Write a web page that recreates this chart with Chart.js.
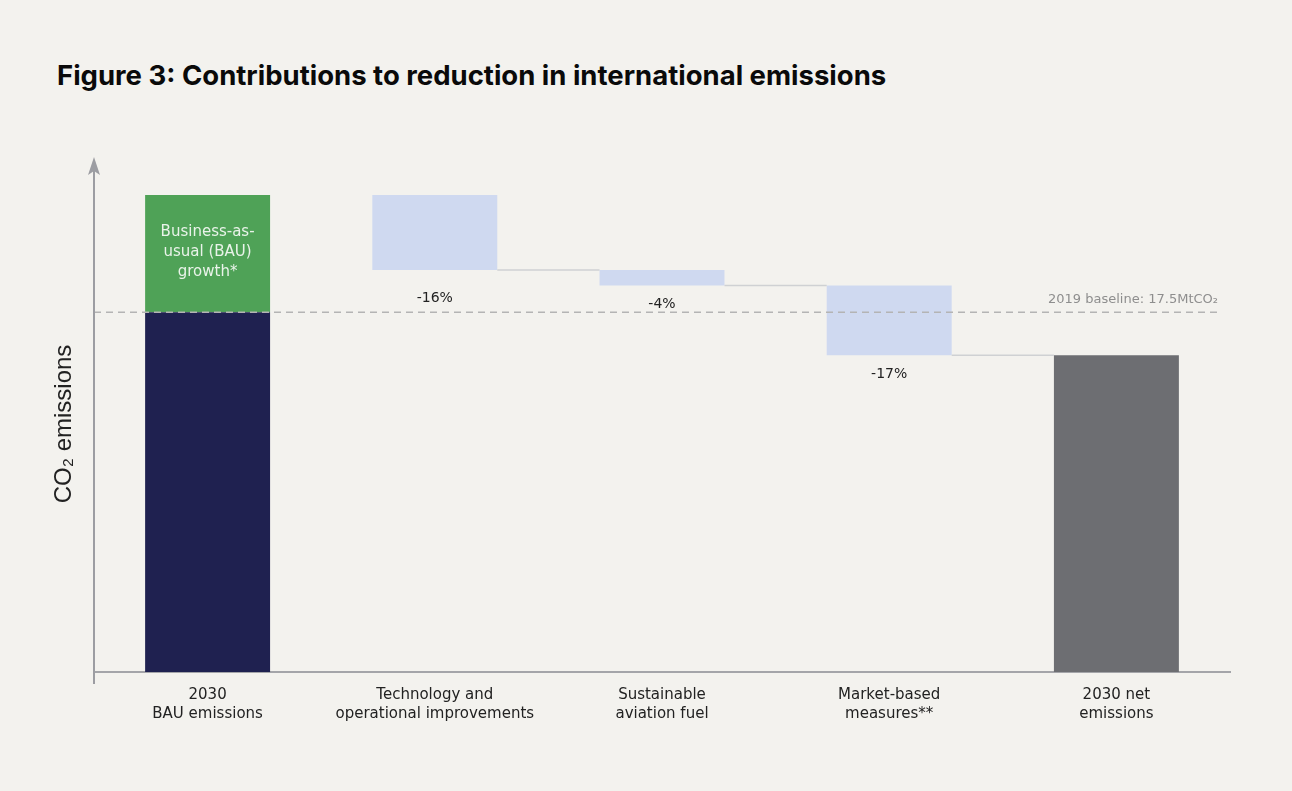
<!DOCTYPE html>
<html>
<head>
<meta charset="utf-8">
<script src="https://cdn.jsdelivr.net/npm/chart.js@4.4.1/dist/chart.umd.min.js"></script>
<style>
  html, body { margin: 0; padding: 0; background: #f3f2ee; }
  #wrap { position: relative; width: 1292px; height: 791px; }
  h1 { position: absolute; left: 57px; top: 58px; margin: 0; font-family: Inter, "Open Sans", sans-serif; font-weight: 700; font-size: 27.5px; line-height: 34px; color: #0a0a0a; }
  #chart { position: absolute; left: 0; top: 0; }
</style>
</head>
<body>
<div id="wrap">
  <h1>Figure 3: Contributions to reduction in international emissions</h1>
  <canvas id="chart" width="1292" height="791"></canvas>
</div>
<script>
const categories = [
  ["2030", "BAU emissions"],
  ["Technology and", "operational improvements"],
  ["Sustainable", "aviation fuel"],
  ["Market-based", "measures**"],
  ["2030 net", "emissions"]
];
// levels (MtCO2), axis has no tick labels
const baseline = 17.5;
const bauTotal = 23.2;
const levelAfterTech = 19.55;
const levelAfterSaf = 18.8;
const netTotal = 15.4;
const stepLabels = ["-16%", "-4%", "-17%"];
const growthLabel = ["Business-as-", "usual (BAU)", "growth*"];
const baselineLabel = "2019 baseline: 17.5MtCO\u2082";

const mainBars = [
  [0, baseline],
  [levelAfterTech, bauTotal],
  [levelAfterSaf, levelAfterTech],
  [netTotal, levelAfterSaf],
  [0, netTotal]
];
const growthBars = [[baseline, bauTotal], null, null, null, null];
const barColors = ["#1f2150", "#cfd9f0", "#cfd9f0", "#cfd9f0", "#6d6e72"];

const font = "'DejaVu Sans', sans-serif";

const extras = {
  id: "extras",
  afterDatasetsDraw(chart) {
    const ctx = chart.ctx;
    const y = chart.scales.y;
    const area = chart.chartArea;
    const meta = chart.getDatasetMeta(0);
    ctx.save();
    // connectors between steps
    ctx.strokeStyle = "#cfd1d3";
    ctx.lineWidth = 1.5;
    for (let i = 1; i < mainBars.length - 1; i++) {
      const a = meta.data[i], b = meta.data[i + 1];
      const py = y.getPixelForValue(mainBars[i][0]);
      ctx.beginPath();
      ctx.moveTo(a.x + a.width / 2, py);
      ctx.lineTo(b.x - b.width / 2, py);
      ctx.stroke();
    }
    // baseline
    const by = y.getPixelForValue(baseline);
    ctx.strokeStyle = "#b4b4b4";
    ctx.setLineDash([7, 5]);
    ctx.beginPath();
    ctx.moveTo(area.left, by);
    ctx.lineTo(area.right - 8, by);
    ctx.stroke();
    ctx.setLineDash([]);
    ctx.fillStyle = "#8e8e8e";
    ctx.font = "13px " + font;
    ctx.textAlign = "right";
    ctx.textBaseline = "middle";
    ctx.fillText(baselineLabel, area.right - 12, by - 13);
    // step labels
    ctx.fillStyle = "#222";
    ctx.font = "14px " + font;
    ctx.textAlign = "center";
    for (let i = 1; i <= stepLabels.length; i++) {
      const bar = meta.data[i];
      const py = Math.max(y.getPixelForValue(mainBars[i][0]) + 19, by - 14);
      ctx.fillText(stepLabels[i - 1], bar.x, py);
    }
    // growth label inside green bar
    const g = chart.getDatasetMeta(1).data[0];
    ctx.fillStyle = "#e9f3e9";
    ctx.font = "15px " + font;
    const top = y.getPixelForValue(bauTotal);
    growthLabel.forEach((t, k) => ctx.fillText(t, g.x, top + 37 + k * 20));
    // y axis with arrow
    ctx.strokeStyle = "#9c9da2";
    ctx.fillStyle = "#9c9da2";
    ctx.lineWidth = 2;
    ctx.beginPath();
    ctx.moveTo(area.left, area.top - 25);
    ctx.lineTo(area.left, area.bottom + 12);
    ctx.stroke();
    ctx.beginPath();
    ctx.moveTo(area.left, area.top - 38);
    ctx.lineTo(area.left - 6, area.top - 20);
    ctx.lineTo(area.left, area.top - 24);
    ctx.lineTo(area.left + 6, area.top - 20);
    ctx.closePath();
    ctx.fill();
    // y title
    ctx.translate(64, 424);
    ctx.rotate(-Math.PI / 2);
    ctx.fillStyle = "#222";
    ctx.font = "24px 'Liberation Sans', Arial, sans-serif";
    ctx.textAlign = "center";
    ctx.fillText("CO\u2082 emissions", 0, 0);
    ctx.restore();
  }
};

new Chart(document.getElementById("chart"), {
  type: "bar",
  data: {
    labels: categories,
    datasets: [
      { data: mainBars, backgroundColor: barColors, barPercentage: 0.55, categoryPercentage: 1 },
      { data: growthBars, backgroundColor: "#4fa257", barPercentage: 0.55, categoryPercentage: 1 }
    ]
  },
  options: {
    responsive: false,
    animation: false,
    layout: { padding: { left: 94, right: 62, top: 195, bottom: 54 } },
    plugins: { legend: { display: false }, tooltip: { enabled: false } },
    scales: {
      x: {
        stacked: true,
        grid: { display: false, drawTicks: false },
        border: { display: true, color: "#a4a5a9", width: 2 },
        ticks: { color: "#222", font: { family: font, size: 15, lineHeight: 1.3 }, padding: 13, maxRotation: 0 }
      },
      y: {
        display: false,
        min: 0,
        max: 23.2
      }
    }
  },
  plugins: [extras]
});
</script>
</body>
</html>
